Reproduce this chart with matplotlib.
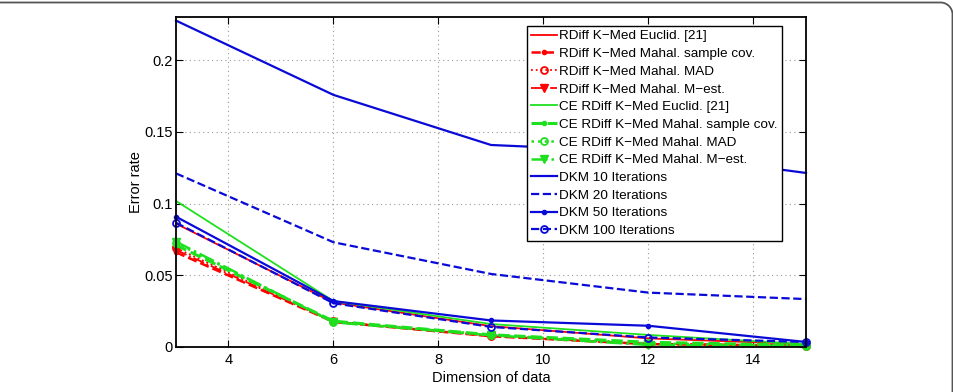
import matplotlib
matplotlib.use('Agg')
import matplotlib.pyplot as plt
import numpy as np

plt.rcParams['font.family'] = ['Liberation Sans', 'DejaVu Sans']

# Dimension of data
dims = [3, 6, 9, 12, 15]

# RDiff K-Med variants (red)
rdiff_euclid = [0.086, 0.031, 0.0145, 0.006, 0.002]
rdiff_samplecov = [0.066, 0.0175, 0.0075, 0.002, 0.001]
rdiff_mad = [0.069, 0.0178, 0.0078, 0.0022, 0.001]
rdiff_mest = [0.0676, 0.0176, 0.0076, 0.002, 0.001]

# CE RDiff K-Med variants (green)
ce_euclid = [0.1018, 0.032, 0.016, 0.0084, 0.002]
ce_samplecov = [0.071, 0.018, 0.0085, 0.0033, 0.0012]
ce_mad = [0.0725, 0.0176, 0.0084, 0.0025, 0.001]
ce_mest = [0.0734, 0.0172, 0.0082, 0.0014, 0.0008]

# DKM (blue)
dkm10 = [0.2275, 0.1757, 0.1408, 0.136, 0.1213]
dkm20 = [0.121, 0.073, 0.0509, 0.0379, 0.0334]
dkm50 = [0.0908, 0.032, 0.0185, 0.0148, 0.0035]
dkm100 = [0.0866, 0.0305, 0.0140, 0.0066, 0.0035]

xticks = [4, 6, 8, 10, 12, 14]
yticks = [0, 0.05, 0.1, 0.15, 0.2]
ytick_labels = ['0', '0.05', '0.1', '0.15', '0.2']

red = '#ff0000'
green = '#1ee01e'
blue = '#0a0ad8'
M = '\u2212'

series = [
    (rdiff_euclid, f'RDiff K{M}Med Euclid. [21]', red, '-', None, 1.3),
    (rdiff_samplecov, f'RDiff K{M}Med Mahal. sample cov.', red, '--', '.', 1.8),
    (rdiff_mad, f'RDiff K{M}Med Mahal. MAD', red, ':', 'o', 1.3),
    (rdiff_mest, f'RDiff K{M}Med Mahal. M{M}est.', red, '-.', 'v', 1.3),
    (ce_euclid, f'CE RDiff K{M}Med Euclid. [21]', green, '-', None, 1.3),
    (ce_samplecov, f'CE RDiff K{M}Med Mahal. sample cov.', green, '--', '.', 2.2),
    (ce_mad, f'CE RDiff K{M}Med Mahal. MAD', green, ':', 'o', 1.8),
    (ce_mest, f'CE RDiff K{M}Med Mahal. M{M}est.', green, '-.', 'v', 1.8),
    (dkm10, 'DKM 10 Iterations', blue, '-', None, 1.6),
    (dkm20, 'DKM 20 Iterations', blue, '--', None, 1.6),
    (dkm50, 'DKM 50 Iterations', blue, '-', '.', 1.6),
    (dkm100, 'DKM 100 Iterations', blue, '--', 'o', 1.6),
]

fig = plt.figure(figsize=(9.54, 3.92), dpi=100)

# journal frame (top and right edge, rounded corner)
bg = fig.add_axes([0, 0, 1, 1], zorder=-5)
bg.set_xlim(0, 954)
bg.set_ylim(392, 0)
bg.axis('off')
r = 12
t = np.linspace(-np.pi / 2, 0, 20)
fx = np.concatenate([[0], 952.5 - r + r * np.cos(t), [952.5]])
fy = np.concatenate([[2.5], 2.5 + r + r * np.sin(t), [392]])
bg.plot(fx, fy, color='#555555', lw=1.3)

ax = fig.add_axes([176 / 954, 1 - 347 / 392, 630 / 954, 330 / 392])

for ys, label, col, ls, mk, lw in series:
    if mk == 'o':
        ax.plot(dims, ys, color=col, ls=ls, marker='o', ms=5, mfc='none',
                mew=1.3, lw=lw, label=label, clip_on=False)
    elif mk == 'v':
        ax.plot(dims, ys, color=col, ls=ls, marker='v', ms=6, lw=lw,
                label=label, clip_on=False)
    elif mk == '.':
        ax.plot(dims, ys, color=col, ls=ls, marker='.', ms=6, lw=lw,
                label=label, clip_on=False)
    else:
        ax.plot(dims, ys, color=col, ls=ls, lw=lw, label=label, clip_on=False)

ax.set_xlim(3, 15)
ax.set_ylim(0, 0.23)
ax.set_xticks(xticks)
ax.set_yticks(yticks)
ax.set_yticklabels(ytick_labels)
ax.tick_params(direction='in', top=True, right=True, length=5, width=0.8,
               labelsize=10.5, colors='black')
ax.tick_params(axis='x', pad=4)
ax.tick_params(axis='y', pad=2.5)
ax.grid(True, linestyle=(0, (1, 3)), color='#999999', lw=0.8)
for s in ax.spines.values():
    s.set_linewidth(1.3)

ax.set_xlabel('Dimension of data', fontsize=10.5, labelpad=3)
ax.set_ylabel('Error rate', fontsize=10.5, labelpad=1)

leg = ax.legend(loc='upper left', bbox_to_anchor=(527 / 954, 1 - 26 / 392),
                bbox_transform=fig.transFigure, fontsize=9.7, numpoints=1,
                handlelength=1.9, handletextpad=0.2, labelspacing=0.39,
                borderpad=0.3, borderaxespad=0, fancybox=False,
                edgecolor='black', framealpha=1)
leg.get_frame().set_linewidth(1.0)

fig.savefig('out.png', dpi=100)
